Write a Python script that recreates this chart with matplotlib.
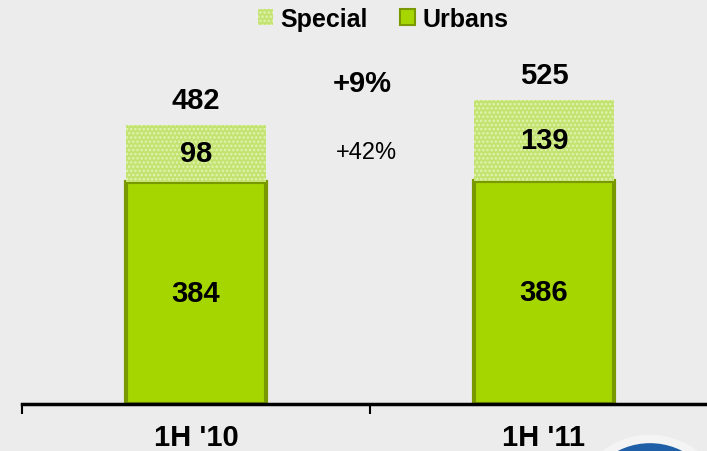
import matplotlib
matplotlib.use("Agg")
import matplotlib.pyplot as plt
from matplotlib.patches import Patch, Ellipse

plt.rcParams['font.family'] = ['Liberation Sans', 'DejaVu Sans']
plt.rcParams['hatch.linewidth'] = 1.2

# data
periods = ["1H '10", "1H '11"]
urbans = [384, 386]
special = [98, 139]
totals = [482, 525]
growth_total = "+9%"
growth_special = "+42%"

urb_color = '#a6d600'
urb_edge = '#7a9800'
spec_color = '#c2e370'
spec_dots = '#e2f3b0'
bg = '#ececec'

fig = plt.figure(figsize=(7.07, 4.52), dpi=100, facecolor=bg)
ax = fig.add_axes([22 / 707, 47 / 452, 696 / 707, 405 / 452])
ax.set_facecolor('none')

x = list(range(len(periods)))
ax.bar(x, urbans, width=0.4, color=urb_color, edgecolor=urb_edge, linewidth=3, zorder=2)
ax.bar(x, special, width=0.4, bottom=urbans, color=spec_color, edgecolor=spec_dots,
       hatch='....', linewidth=0, zorder=2)

for i in x:
    ax.text(i, urbans[i] / 2, str(urbans[i]), ha='center', va='center',
            fontsize=21, fontweight='bold', zorder=3)
    ax.text(i, urbans[i] + special[i] / 2, str(special[i]), ha='center', va='center',
            fontsize=21, fontweight='bold', zorder=3)
    ax.text(i, totals[i] + 44, str(totals[i]), ha='center', va='center',
            fontsize=21, fontweight='bold', zorder=3)

ax.text(0.477, 555, growth_total, ha='center', va='center', fontsize=21, fontweight='bold')
ax.text(0.489, 436, growth_special, ha='center', va='center', fontsize=17)

ax.set_xlim(-0.5, 1.5)
ax.set_ylim(0, 700)
for s in ['left', 'right', 'top']:
    ax.spines[s].set_visible(False)
ax.spines['bottom'].set_linewidth(2.5)
ax.spines['bottom'].set_zorder(4)
ax.set_yticks([])
ax.set_xticks(x)
ax.set_xticklabels(periods, fontsize=21, fontweight='bold')
ax.tick_params(axis='x', which='major', length=0, pad=14)
ax.set_xticks([-0.5, 0.5, 1.5], minor=True)
ax.tick_params(axis='x', which='minor', length=7, width=1.5, direction='out')

handles = [Patch(facecolor=spec_color, edgecolor=spec_dots, hatch='....', linewidth=0),
           Patch(facecolor=urb_color, edgecolor=urb_edge, linewidth=1.5)]
fig.legend(handles, ['Special', 'Urbans'], loc='center', bbox_to_anchor=(383 / 707, 1 - 20 / 452),
           ncol=2, frameon=False, prop={'size': 18, 'weight': 'bold'},
           handlelength=0.6, handleheight=0.6, handletextpad=0.3, columnspacing=1.3)

# partial logo circle at bottom right
logo = Ellipse((650 / 707, 1 - 505 / 452), 140 / 707, 130 / 452, transform=fig.transFigure,
               facecolor='#1f5fa8', edgecolor='#f4f4f4', linewidth=6)
fig.patches.append(logo)

fig.savefig('out.png', dpi=100, facecolor=bg)
